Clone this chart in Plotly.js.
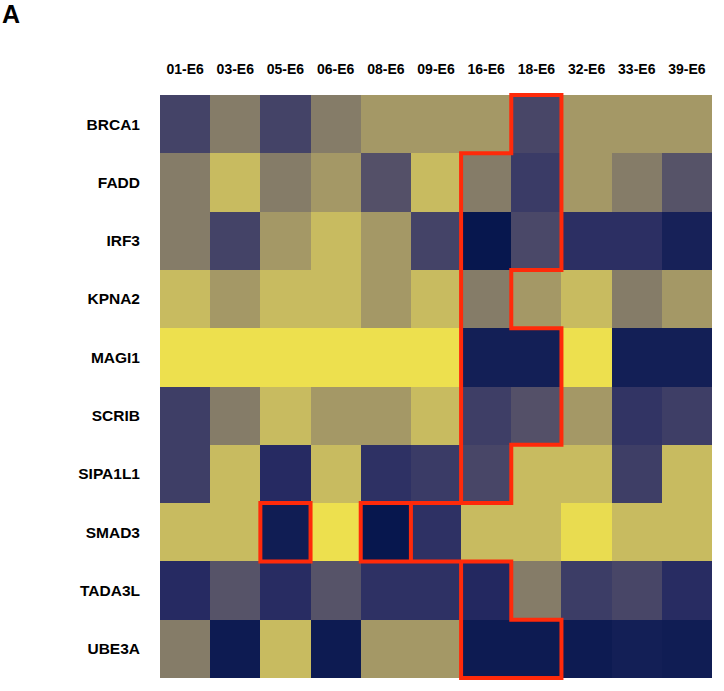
<!DOCTYPE html>
<html>
<head>
<meta charset="utf-8">
<script src="https://cdn.plot.ly/plotly-3.0.1.min.js"></script>
<style>html,body{margin:0;padding:0;background:#fff;}#chart{width:724px;height:691px;}</style>
</head>
<body>
<div id="chart"></div>
<script>
// Column (sample) labels
const samples = ["01-E6","03-E6","05-E6","06-E6","08-E6","09-E6","16-E6","18-E6","32-E6","33-E6","39-E6"];
// Row (gene) labels
const genes = ["BRCA1","FADD","IRF3","KPNA2","MAGI1","SCRIB","SIPA1L1","SMAD3","TADA3L","UBE3A"];
// Relative values (0 = dark blue, 1 = bright yellow), one array per gene
const BRCA1   = [0.25,0.50,0.25,0.50,0.65,0.65,0.65,0.27,0.65,0.65,0.65];
const FADD    = [0.50,0.80,0.50,0.65,0.32,0.80,0.50,0.20,0.65,0.50,0.33];
const IRF3    = [0.50,0.25,0.65,0.80,0.65,0.25,0.00,0.28,0.13,0.13,0.05];
const KPNA2   = [0.80,0.65,0.80,0.80,0.65,0.80,0.50,0.65,0.80,0.50,0.65];
const MAGI1   = [1.00,1.00,1.00,1.00,1.00,1.00,0.04,0.04,1.00,0.04,0.04];
const SCRIB   = [0.22,0.50,0.80,0.65,0.65,0.80,0.22,0.32,0.65,0.16,0.22];
const SIPA1L1 = [0.22,0.80,0.10,0.80,0.14,0.20,0.27,0.80,0.80,0.22,0.80];
const SMAD3   = [0.80,0.80,0.03,1.00,0.00,0.14,0.80,0.80,0.98,0.80,0.80];
const TADA3L  = [0.10,0.33,0.11,0.33,0.14,0.14,0.09,0.50,0.21,0.27,0.11];
const UBE3A   = [0.50,0.02,0.80,0.02,0.65,0.65,0.02,0.02,0.02,0.04,0.03];

const zRows = [BRCA1,FADD,IRF3,KPNA2,MAGI1,SCRIB,SIPA1L1,SMAD3,TADA3L,UBE3A];

// Highlight outlines, as corners on the cell-edge grid [column edge, row edge]
const outlineMain = [[6,7],[6,1],[7,1],[7,0],[8,0],[8,3],[7,3],[7,4],[8,4],[8,6],[7,6],[7,7],[4,7],[4,8],[5,8],[5,7],[5,8],[7,8],[7,9],[8,9],[8,10],[6,10],[6,8]];
const outlineBox = [[2,7],[3,7],[3,8],[2,8],[2,7]];

const colorscale = [
  [0.00,"#07174e"],[0.10,"#262a62"],[0.20,"#3a3b66"],[0.30,"#4e4b68"],
  [0.40,"#6a6468"],[0.50,"#857c68"],[0.65,"#a49866"],[0.80,"#c8bb60"],[1.00,"#ede04e"]
];

function pathOf(pts, close){
  let s = pts.map((p,i)=> (i===0?"M ":"L ") + (p[0]-0.5) + " " + (p[1]-0.5)).join(" ");
  return close ? s + " Z" : s;
}
const lineStyle = {color:"#ff2a0a", width:4};

const fam = "Liberation Sans, Arial, sans-serif";
const xfont = {family:fam, size:14, color:"#000", weight:"bold"};
const yfont = {family:fam, size:15.5, color:"#000", weight:"bold"};

Plotly.newPlot("chart", [{
  type:"heatmap",
  x: samples, y: genes, z: zRows,
  zmin:0, zmax:1,
  colorscale: colorscale,
  showscale:false,
  hoverinfo:"skip"
}], {
  width:724, height:691,
  margin:{l:160, r:12, t:93, b:11, pad:0},
  paper_bgcolor:"#fff", plot_bgcolor:"#fff",
  xaxis:{side:"top", type:"category", showgrid:false, zeroline:false, showline:false, ticks:"", ticklabelstandoff:15, tickfont:xfont, fixedrange:true},
  yaxis:{type:"category", autorange:"reversed", showgrid:false, zeroline:false, showline:false, ticks:"", ticklabelstandoff:19, tickfont:yfont, fixedrange:true},
  shapes:[
    {type:"path", xref:"x", yref:"y", path: pathOf(outlineMain,false), line:lineStyle, layer:"above"},
    {type:"path", xref:"x", yref:"y", path: pathOf(outlineBox,true), line:lineStyle, layer:"above"}
  ],
  annotations:[
    {text:"A", xref:"paper", yref:"paper", x:-0.29, y:1.135, xanchor:"left", yanchor:"middle", showarrow:false,
     font:{family:fam, size:25, color:"#000", weight:"bold"}}
  ]
}, {displayModeBar:false, staticPlot:true});
</script>
</body>
</html>
